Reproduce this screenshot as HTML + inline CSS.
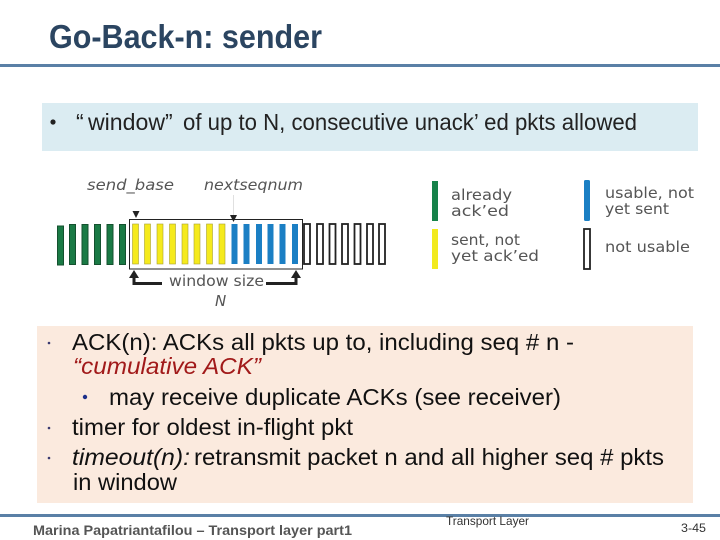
<!DOCTYPE html>
<html><head><meta charset="utf-8"><style>
html,body{margin:0;padding:0;background:#fff}
svg{display:block}
text{font-family:"Liberation Sans",sans-serif}
</style></head><body>
<svg width="720" height="540" viewBox="0 0 720 540" xmlns="http://www.w3.org/2000/svg">
<rect width="720" height="540" fill="#fff"/>
<text x="49" y="48" font-size="33" font-weight="bold" fill="#2b4561" textLength="273" lengthAdjust="spacingAndGlyphs">Go-Back-n: sender</text>
<rect x="0" y="64" width="720" height="3" fill="#5a80a6"/>
<rect x="42" y="103" width="656" height="48" fill="#dbecf2"/>
<circle cx="53" cy="122" r="2.600" fill="#222"/>
<g font-size="23" fill="#222">
<text x="76" y="130">“</text>
<text x="88" y="130" textLength="77" lengthAdjust="spacingAndGlyphs">window</text>
<text x="165" y="130">”</text>
<text x="183" y="130" textLength="454" lengthAdjust="spacingAndGlyphs">of up to N, consecutive unack’ ed pkts allowed</text>
</g>

<g fill="#1a7a45" stroke="#14512f" stroke-width="1">
<rect x="57.500" y="226" width="6" height="39"/><rect x="69.500" y="224.500" width="6" height="40"/><rect x="82" y="224.500" width="6" height="40"/><rect x="94.500" y="224.500" width="6" height="40"/><rect x="107" y="224.500" width="6" height="40"/><rect x="119.500" y="224.500" width="6" height="40"/>
</g>
<g fill="#f5ea1c" stroke="#a8a030" stroke-width=".6">
<rect x="132.500" y="224" width="6" height="40"/><rect x="144.500" y="224" width="6" height="40"/><rect x="157" y="224" width="6" height="40"/><rect x="169.500" y="224" width="6" height="40"/><rect x="182" y="224" width="6" height="40"/><rect x="194" y="224" width="6" height="40"/><rect x="206.500" y="224" width="6" height="40"/><rect x="219" y="224" width="6" height="40"/>
</g>
<g fill="#1b7fc4">
<rect x="231.500" y="224" width="6" height="40"/><rect x="243.500" y="224" width="6" height="40"/><rect x="256" y="224" width="6" height="40"/><rect x="267.500" y="224" width="6" height="40"/><rect x="279.500" y="224" width="6" height="40"/><rect x="292" y="224" width="6" height="40"/>
</g>
<g fill="#fff" stroke="#222" stroke-width="1.800">
<rect x="304" y="224" width="6" height="40"/><rect x="317" y="224" width="6" height="40"/><rect x="329.500" y="224" width="6" height="40"/><rect x="342" y="224" width="6" height="40"/><rect x="354.500" y="224" width="6" height="40"/><rect x="367" y="224" width="6" height="40"/><rect x="379" y="224" width="6" height="40"/>
</g>
<rect x="129.500" y="219.500" width="173" height="49.500" fill="none" stroke="#222" stroke-width="1"/>

<path d="M136 218l3.500-7h-7zM233.500 222l3.500-7h-7z" fill="#222"/>
<path d="M233.500 195v20" stroke="#ccc" stroke-width=".6" fill="none"/>
<path d="M134 276v7.500h28M296 276v7.500h-30" fill="none" stroke="#222" stroke-width="3"/>
<path d="M134 270l5 8h-10zM296 270l5 8h-10z" fill="#222"/>
<g font-family="DejaVu Sans" fill="#555">
<text x="87" y="190" font-size="15" font-style="italic" style="font-family:'DejaVu Sans',sans-serif" textLength="87" lengthAdjust="spacingAndGlyphs">send_base</text>
<text x="204" y="190" font-size="15" font-style="italic" style="font-family:'DejaVu Sans',sans-serif" textLength="99" lengthAdjust="spacingAndGlyphs">nextseqnum</text>
<text x="169" y="286" font-size="15" style="font-family:'DejaVu Sans',sans-serif" textLength="95" lengthAdjust="spacingAndGlyphs">window size</text>
<text x="215" y="306" font-size="15" font-style="italic" style="font-family:'DejaVu Sans',sans-serif">N</text>
</g>

<rect x="432" y="181" width="6" height="40" fill="#16824a"/>
<rect x="432" y="229" width="6" height="40" fill="#f2ea1e"/>
<rect x="584" y="180" width="6" height="41" rx="1.500" fill="#1b7fc4"/>
<rect x="584" y="229" width="6" height="40" fill="#fff" stroke="#222" stroke-width="1.800"/>
<g font-size="15.500" fill="#555">
<text x="451" y="200" style="font-family:'DejaVu Sans',sans-serif" textLength="61" lengthAdjust="spacingAndGlyphs">already</text>
<text x="451" y="216" style="font-family:'DejaVu Sans',sans-serif" textLength="58" lengthAdjust="spacingAndGlyphs">ack’ed</text>
<text x="451" y="245" style="font-family:'DejaVu Sans',sans-serif" textLength="69" lengthAdjust="spacingAndGlyphs">sent, not</text>
<text x="451" y="261" style="font-family:'DejaVu Sans',sans-serif" textLength="88" lengthAdjust="spacingAndGlyphs">yet ack’ed</text>
<text x="605" y="198" style="font-family:'DejaVu Sans',sans-serif" textLength="89" lengthAdjust="spacingAndGlyphs">usable, not</text>
<text x="605" y="214" style="font-family:'DejaVu Sans',sans-serif" textLength="64" lengthAdjust="spacingAndGlyphs">yet sent</text>
<text x="605" y="252" style="font-family:'DejaVu Sans',sans-serif" textLength="85" lengthAdjust="spacingAndGlyphs">not usable</text>
</g>

<rect x="37" y="326" width="656" height="177" fill="#fbeade"/>
<g fill="#3a3a70">
<circle cx="49" cy="343" r="1.300"/><circle cx="49" cy="428" r="1.300"/><circle cx="49" cy="458" r="1.300"/>
<circle cx="85" cy="397" r="2.200" fill="#1c2f8a"/>
</g>
<g font-size="23.500" fill="#111">
<text x="72" y="350" textLength="502" lengthAdjust="spacingAndGlyphs">ACK(n): ACKs all pkts up to, including seq # n -</text>
<text x="73" y="374" font-style="italic" fill="#a11a1a" textLength="188" lengthAdjust="spacingAndGlyphs">“cumulative ACK”</text>
<text x="109" y="405" textLength="452" lengthAdjust="spacingAndGlyphs">may receive duplicate ACKs (see receiver)</text>
<text x="72" y="435" textLength="281" lengthAdjust="spacingAndGlyphs">timer for oldest in-flight pkt</text>
<text x="72" y="465" font-style="italic" textLength="118" lengthAdjust="spacingAndGlyphs">timeout(n):</text>
<text x="194" y="465" textLength="470" lengthAdjust="spacingAndGlyphs">retransmit packet n and all higher seq # pkts</text>
<text x="73" y="490" textLength="104" lengthAdjust="spacingAndGlyphs">in window</text>
</g>

<rect x="0" y="514" width="720" height="3" fill="#5a80a6"/>
<text x="33" y="535" font-size="14" font-weight="bold" fill="#555" textLength="319" lengthAdjust="spacingAndGlyphs">Marina Papatriantafilou –  Transport layer part1</text>
<text x="446" y="525" font-size="12" fill="#333" textLength="83" lengthAdjust="spacingAndGlyphs">Transport Layer</text>
<text x="681" y="532" font-size="12" fill="#333" textLength="25" lengthAdjust="spacingAndGlyphs">3-45</text>
</svg>
</body></html>
